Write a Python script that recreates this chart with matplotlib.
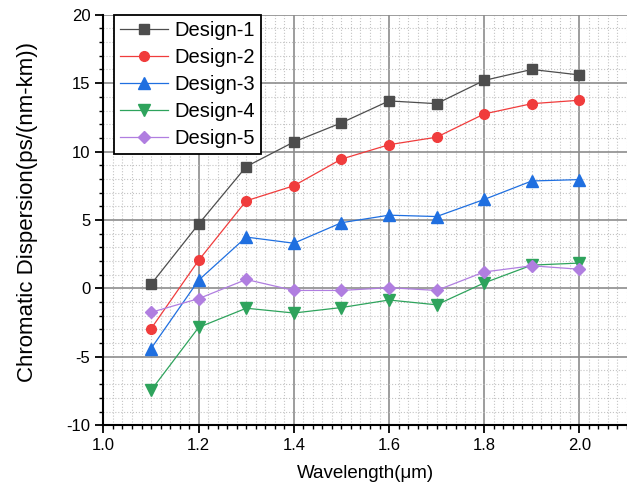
import matplotlib.pyplot as plt
from matplotlib.ticker import MultipleLocator

plt.rcParams['font.family'] = ['Liberation Sans', 'DejaVu Sans']

wavelength = [1.1, 1.2, 1.3, 1.4, 1.5, 1.6, 1.7, 1.8, 1.9, 2.0]
design_1 = [0.3, 4.7, 8.9, 10.7, 12.1, 13.7, 13.5, 15.2, 16.0, 15.6]
design_2 = [-2.95, 2.05, 6.4, 7.5, 9.45, 10.5, 11.05, 12.75, 13.5, 13.75]
design_3 = [-4.4, 0.6, 3.75, 3.3, 4.8, 5.35, 5.25, 6.5, 7.85, 7.95]
design_4 = [-7.45, -2.85, -1.45, -1.8, -1.4, -0.85, -1.2, 0.4, 1.7, 1.85]
design_5 = [-1.75, -0.75, 0.65, -0.15, -0.15, 0.05, -0.15, 1.2, 1.65, 1.4]

labels = ["Design-1", "Design-2", "Design-3", "Design-4", "Design-5"]
colors = ["#4d4d4d", "#f03c3c", "#1f6fe0", "#2ea35c", "#b07ee0"]
markers = ["s", "o", "^", "v", "D"]
sizes = [7, 7, 8, 8, 6.5]

fig = plt.figure(figsize=(6.27, 4.91), dpi=100)
ax = fig.add_axes([0.165, 0.134, 0.835, 0.836])

for ys, lab, c, m, s in zip([design_1, design_2, design_3, design_4, design_5],
                            labels, colors, markers, sizes):
    ax.plot(wavelength, ys, color=c, marker=m, markersize=s, linewidth=0.9,
            label=lab, zorder=3)

ax.set_xlim(1.0, 2.1)
ax.set_ylim(-10, 20)
ax.xaxis.set_minor_locator(MultipleLocator(0.02))
ax.yaxis.set_minor_locator(MultipleLocator(1))
ax.set_xticks([1.0, 1.2, 1.4, 1.6, 1.8, 2.0])
ax.set_xticklabels(["1.0", "1.2", "1.4", "1.6", "1.8", "2.0"])
ax.set_yticks([-10, -5, 0, 5, 10, 15, 20])
ax.set_yticklabels(["-10", "-5", "0", "5", "10", "15", "20"])

ax.grid(which="major", color="#8c8c8c", linewidth=1.2, linestyle="-", zorder=1)
ax.grid(which="minor", color="#c4c4c4", linewidth=0.8, linestyle=":", zorder=1)
ax.set_axisbelow(True)

ax.spines["top"].set_visible(False)
ax.spines["right"].set_visible(False)
ax.spines["left"].set_linewidth(1.5)
ax.spines["bottom"].set_linewidth(1.5)
ax.tick_params(which="major", direction="out", length=6, width=1.3, labelsize=12)
ax.tick_params(which="minor", direction="out", length=3, width=1.0)

ax.set_xlabel("Wavelength(μm)", fontsize=13.5, labelpad=8)
ax.set_ylabel("Chromatic Dispersion(ps/(nm-km))", fontsize=16, labelpad=19)
ax.yaxis.set_label_coords(-0.125, 0.52)

leg = ax.legend(loc="upper left", bbox_to_anchor=(0.02, 1.0), fontsize=14.5,
                frameon=True, fancybox=False, edgecolor="black", framealpha=1,
                borderpad=0.3, labelspacing=0.4, handlelength=2.4,
                handletextpad=0.3, borderaxespad=0)
leg.get_frame().set_linewidth(1.3)

fig.savefig("out.png", dpi=100)
